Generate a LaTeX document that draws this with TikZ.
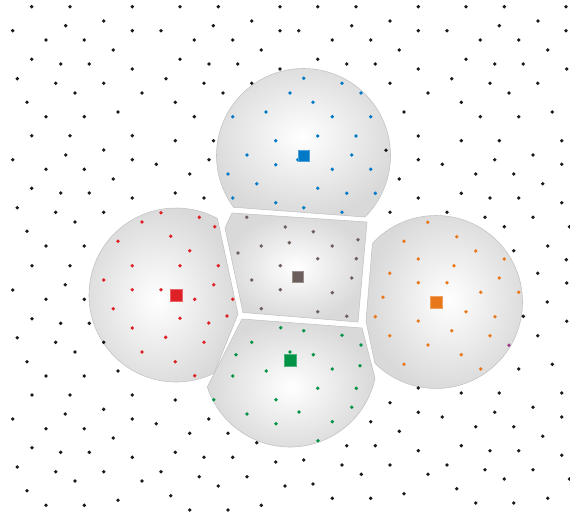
\documentclass[tikz,border=0pt]{standalone}
\definecolor{cblue}{RGB}{0,122,199}
\definecolor{cred}{RGB}{222,33,38}
\definecolor{corange}{RGB}{232,120,26}
\definecolor{cgreen}{RGB}{0,146,69}
\definecolor{cgray}{RGB}{108,94,90}
\definecolor{cpurple}{RGB}{160,60,140}
\definecolor{dotblack}{RGB}{25,25,25}
\begin{document}
\begin{tikzpicture}[x=0.5mm, y=-0.5mm,
		site/.style = {rectangle, minimum size = 5.8mm, inner sep = 0pt},
		cell/.style = {draw = black!24, line width = 0.8pt, inner color = white, outer color = black!15}]
				\tikzstyle{pt}=[radius=1.9]
				\useasboundingbox (0,0) rectangle (570,516);
				\coordinate (bluec) at (303.5,155.5);
				\coordinate (redc) at (176,295);
				\coordinate (orangec) at (436,302);
				\coordinate (greenc) at (290,360);
				\coordinate (rM) at (238,314);
				\coordinate (oM) at (366,321);
				\coordinate (gTL) at (242,319);
				\coordinate (gTR) at (362,328);
				% cells
				\draw[cell] (bluec) ++(143.5:87) arc[start angle=143.5, end angle=405, radius=87] -- cycle;
				\draw[cell] (redc) ++(64:87) arc[start angle=64, end angle=298.4, radius=87] -- (rM) -- cycle;
				\draw[cell] (orangec) ++(222.7:86.5) arc[start angle=222.7, end angle=495, radius=86.5] -- (oM) -- cycle;
				\draw[cell] (greenc) ++(12.2:87) arc[start angle=12.2, end angle=161.9, radius=87] -- (gTL) -- (gTR) -- cycle;
				\draw[cell] (232,213) -- (367,222) -- (358,322) -- (243,312.5) -- (225,228) -- cycle;
				% points
				\foreach \x/\y in {31.7/6.7, 70/6.7, 132.3/6.7, 180/6.7, 218.3/6.7, 280/6.7, 317.7/6.7, 356/6.7, 418.3/6.7, 466/6.7, 504.3/6.7, 566/6.7,
					12.7/30.7, 65.7/25.7, 103.7/21, 132.3/30.7, 161/30.7, 213.3/25.7, 251.7/21, 280/30.7, 298.7/30.7, 351.7/25.7, 390/21, 418.3/30.7, 447/30.7, 499.3/25.7, 538/21, 566/30.7,
					46/40, 84.3/40, 113.3/50, 194.3/40, 232.7/40, 261.3/50, 332.3/40, 370.7/40, 399.3/50, 480.3/40, 518.7/40, 547.7/50,
					31.7/59.3, 60.7/64, 89.3/64, 132.3/69, 180/59.3, 209/64, 237.7/64, 280/69, 317.7/59.3, 346.7/64, 375.3/64, 418.3/69, 466/59.3, 494.7/64, 523.3/64, 566.7/69,
					17.3/78.7, 55.7/83.3, 103.7/83.3, 166/78.7, 204/83.3, 251.7/83.3, 390/83.3, 451.7/78.7, 490/83.3, 537.7/83.3,
					75/93, 142/93, 223/93, 428/93, 509/93,
					27/102.3, 175.3/102.3, 461.3/102.3,
					46/116.7, 84.3/116.7, 118/112, 194.3/116.7, 404/112, 480.3/116.7, 518.7/116.7, 552.3/112,
					31.7/135.7, 70/135.7, 132.3/135.7, 175.3/140.7, 213.5/140.7, 418.3/136, 461.3/140.7, 499.3/140.7, 561.7/140.7,
					103.7/150, 12.7/159.7, 65.7/155, 132.3/159.7, 156.3/164.3, 209/159.7, 386/150.3, 418.3/159.7, 442.3/164.3, 494.7/159.7, 533/155, 561.7/164.3,
					46/169.3, 84.3/169.3, 113.3/179, 189.7/174, 399.3/179, 475.7/174, 513.7/174, 542.7/183.7,
					31.7/188.3, 60.7/193, 89.3/193, 132.3/198, 175.3/193, 204/198, 418.3/198, 461.3/193.3, 490/198, 518.7/198, 561.7/202.7,
					17.3/207.7, 55.7/212.3, 103.7/212.3, 390/212.3, 447/212.3, 485/217.3, 533/217.3,
					75/222, 504.3/226.7, 569.5/226.7,
					27/231.3, 46/246, 84.3/246, 513.7/250.7, 547.7/246,
					32/265.7, 70/265.7, 566.3/259.7,
					12.7/290, 65.3/284.7, 537.7/273.3, 566.7/283,
					46/299.3, 84.3/299.3, 547.3/302,
					32/318.7, 60.7/323.3, 89.3/323.3, 523.3/316.3, 566.7/321.3,
					17.3/337.7, 55.7/342.3, 103.7/342.3, 537.7/335.7,
					75/352, 27/361.7, 552.3/364.3,
					46/376, 84.3/376, 118/371, 518.7/369,
					32/395, 70/395, 132.3/395, 175.3/400, 418.3/388, 461.3/393, 499.3/393, 561.7/393,
					103.7/409.3, 12.7/419, 65.3/414, 132.3/419, 156.3/423.7, 208.7/419, 390/402.7, 533/407.3, 418.3/412.3, 442.3/417, 494.7/412.3, 561.7/417,
					46/428.7, 84.3/428.7, 113.3/438, 189.7/433.3, 228/433.3, 256.7/442.7, 370.7/421.7, 475.7/426.7, 513.7/426.7, 399.3/431.3, 542.7/436.3,
					32/447.7, 60.7/452.3, 89.3/452.3, 132.3/457.3, 175.3/452.3, 204/457.3, 232.7/457.3, 275.7/462, 346.7/445.7, 375.3/445.7, 418.3/450.7, 461.3/445.7, 490/450.7, 518.7/450.7, 561.7/455.3,
					17.3/467, 55.7/471.7, 103.7/471.7, 161/471.7, 199.3/476.7, 247/476.7, 303.7/460, 342/465, 390/465, 447/465, 485/469.7, 533/469.7,
					75/481, 142/481, 218.3/486, 285/486, 361.3/474.3, 428/474.3, 504.3/479, 313/484, 569.5/479,
					27/490.7, 170.7/495.7, 456.7/488.7, 404/493.7,
					46/505.3, 84.3/505.3, 118/500.3, 261.3/505.3, 332.3/498.3, 370.7/498.3, 547.7/498.3,
					189.7/510, 228/510, 475.7/503, 513.7/503}
					\fill[dotblack] (\x,\y) circle [pt];
				\foreach \x/\y in {303.7/78.3, 342/83.3, 290/93, 361/93, 313/102.3, 266/112, 232.7/116.7, 332.3/116.7, 370.7/116.7,
					275.7/140.7, 317.7/136, 356/136, 247/155, 351.7/155, 297.7/159.7, 275.7/164.7, 332.3/169.3, 370.7/169.3,
					228/174, 256.7/183.7, 317.7/188.3, 346.7/193.3, 375.3/193.3, 232.7/198, 275.7/202.7, 303.7/207.7, 342/212.3}
					\fill[cblue] (\x,\y) circle [pt];
				\foreach \x/\y in {161/212.7, 142/222, 199.3/217.3, 214.7/226.7, 118/241.3, 170.7/236.3, 189.7/250.7, 132.3/265.7, 180/265.7,
					218.3/265.7, 103.7/280, 213.7/284.7, 132.3/289.7, 161/289.7, 194.7/299.3, 232.7/299.3, 113.3/308.7, 180/318.3,
					227/316, 208.7/323, 132.3/328, 165.7/337.3, 204/342.3, 142/352, 175.3/361.7, 194.7/375.7}
					\fill[cred] (\x,\y) circle [pt];
				\foreach \x/\y in {246.7/217.3, 285.3/227, 313.3/231.7, 261.3/246, 289.3/242.7, 332.3/246, 358/239.7, 238/253, 317.7/258.7,
					356.3/258.7, 280.3/265.7, 251.7/280, 351.7/278, 280.3/289.7, 332.3/292.7, 261.3/308.7, 317.7/311.7, 346.7/316.3}
					\fill[cgray] (\x,\y) circle [pt];
				\foreach \x/\y in {427.7/222.3, 456.7/236.7, 404/241.3, 475.7/251, 504.3/259, 418.3/259, 454/265.7, 389.7/273.3, 499.3/278,
					418.3/282.7, 447/282.7, 480.7/292.3, 518.7/292.3, 383/297.3, 466/311.7, 375.3/316.7, 495/316.7, 418.3/321,
					451.7/330.7, 389.7/335.7, 490/335.7, 428/345, 461.3/354.7, 404/364.3, 480.7/369}
					\fill[corange] (\x,\y) circle [pt];
				\foreach \x/\y in {280.7/327.7, 303.7/330.7, 342/335.3, 251.7/342.3, 361/345, 236/354.7, 290/352, 313.3/354.7, 266.3/371,
					332.3/369, 360/365.7, 232.7/376, 317.7/388.3, 356.3/388.3, 213.7/399.7, 276/399.7, 351.7/407.3, 247/414,
					299/412, 276/423.7, 332.3/421.7, 318/440.7}
					\fill[cgreen] (\x,\y) circle [pt];
				\fill[cpurple] (509,345.3) circle [pt];
				% sites
				\node (blue) at (bluec) [site, fill = cblue, draw = cblue!70!white] {};
				\node (red) at (redc) [site, fill = cred, draw = cred!70!white] {};
				\node (orange) at (orangec) [site, fill = corange, draw = corange!70!white] {};
				\node (green) at (greenc) [site, fill = cgreen, draw = cgreen!70!white] {};
				\node (gray) at (297.5,276.5) [site, fill = cgray, draw = cgray!70!white] {};
				\end{tikzpicture}
\end{document}
